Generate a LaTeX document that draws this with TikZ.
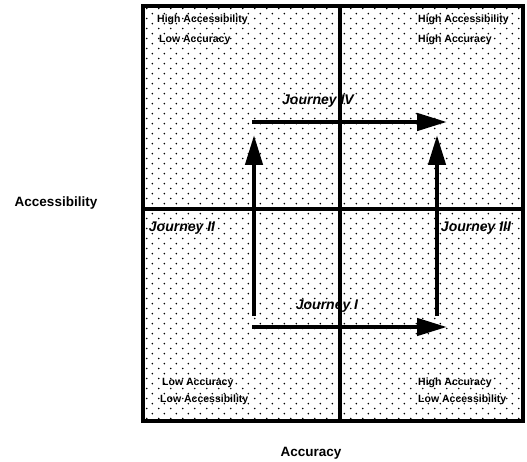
\documentclass[tikz,border=0pt]{standalone}
\usepackage{fontspec}
\setmainfont{Liberation Sans}
\usetikzlibrary{arrows.meta,patterns.meta}
\tikzdeclarepattern{name=quaddots,type=uncolored,
  bounding box={(0,0) and (12pt,10.4pt)},tile size={(12pt,10.4pt)},
  code={\fill (3pt,2.6pt) circle (0.95pt); \fill (9pt,7.8pt) circle (0.95pt);}}
\tikzset{
  corner/.style={anchor=west,font=\bfseries\fontsize{10.5}{12}\selectfont,inner sep=0pt},
  journey/.style={font=\bfseries\itshape\fontsize{14}{16}\selectfont,inner sep=0pt},
  axis/.style={font=\bfseries\fontsize{13.5}{16}\selectfont,inner sep=0pt},
  path/.style={line width=4.5pt,-{Triangle[length=30pt,width=17pt]}},
}
\begin{document}
\begin{tikzpicture}[x=1pt,y=-1pt]
          \useasboundingbox (0,0) rectangle (527,462);
          \fill[pattern=quaddots,pattern color=black] (143,6) rectangle (523,421);
          \draw[line width=3.5pt] (143,6) rectangle (523,421);
          \draw[line width=3.5pt] (340,6) -- (340,421);
          \draw[line width=3.5pt] (143,209) -- (523,209);
          \node[corner] (tl1) at (157,20) {High Accessibility};
          \node[corner] (tl2) at (159,40) {Low Accuracy};
          \node[corner] (tr1) at (418,20) {High Accessibility};
          \node[corner] (tr2) at (418,40) {High Accuracy};
          \node[corner] (bl1) at (162,383) {Low Accuracy};
          \node[corner] (bl2) at (160,400) {Low Accessibility};
          \node[corner] (br1) at (418,383) {High Accuracy};
          \node[corner] (br2) at (418,400) {Low Accessibility};
          \node[axis] (acc) at (56,203) {Accessibility};
          \node[axis] (acy) at (311,453) {Accuracy};
          \coordinate (ll) at (252,327);
          \coordinate (lr) at (447,327);
          \coordinate (ul) at (252,122);
          \coordinate (ur) at (447,122);
          \coordinate (lb) at (254,316);
          \coordinate (lt) at (254,135);
          \coordinate (rb) at (437,316);
          \coordinate (rt) at (437,135);
          \draw[path] (ll) -- (lr);
          \draw[path] (ul) -- (ur);
          \draw[path] (lb) -- (lt);
          \draw[path] (rb) -- (rt);
          \node[journey] (j1) at (327,306) {Journey I};
          \node[journey] (j2) at (182,228) {Journey II};
          \node[journey] (j3) at (476,228) {Journey III};
          \node[journey] (j4) at (318,101) {Journey IV};
        \end{tikzpicture}
\end{document}
